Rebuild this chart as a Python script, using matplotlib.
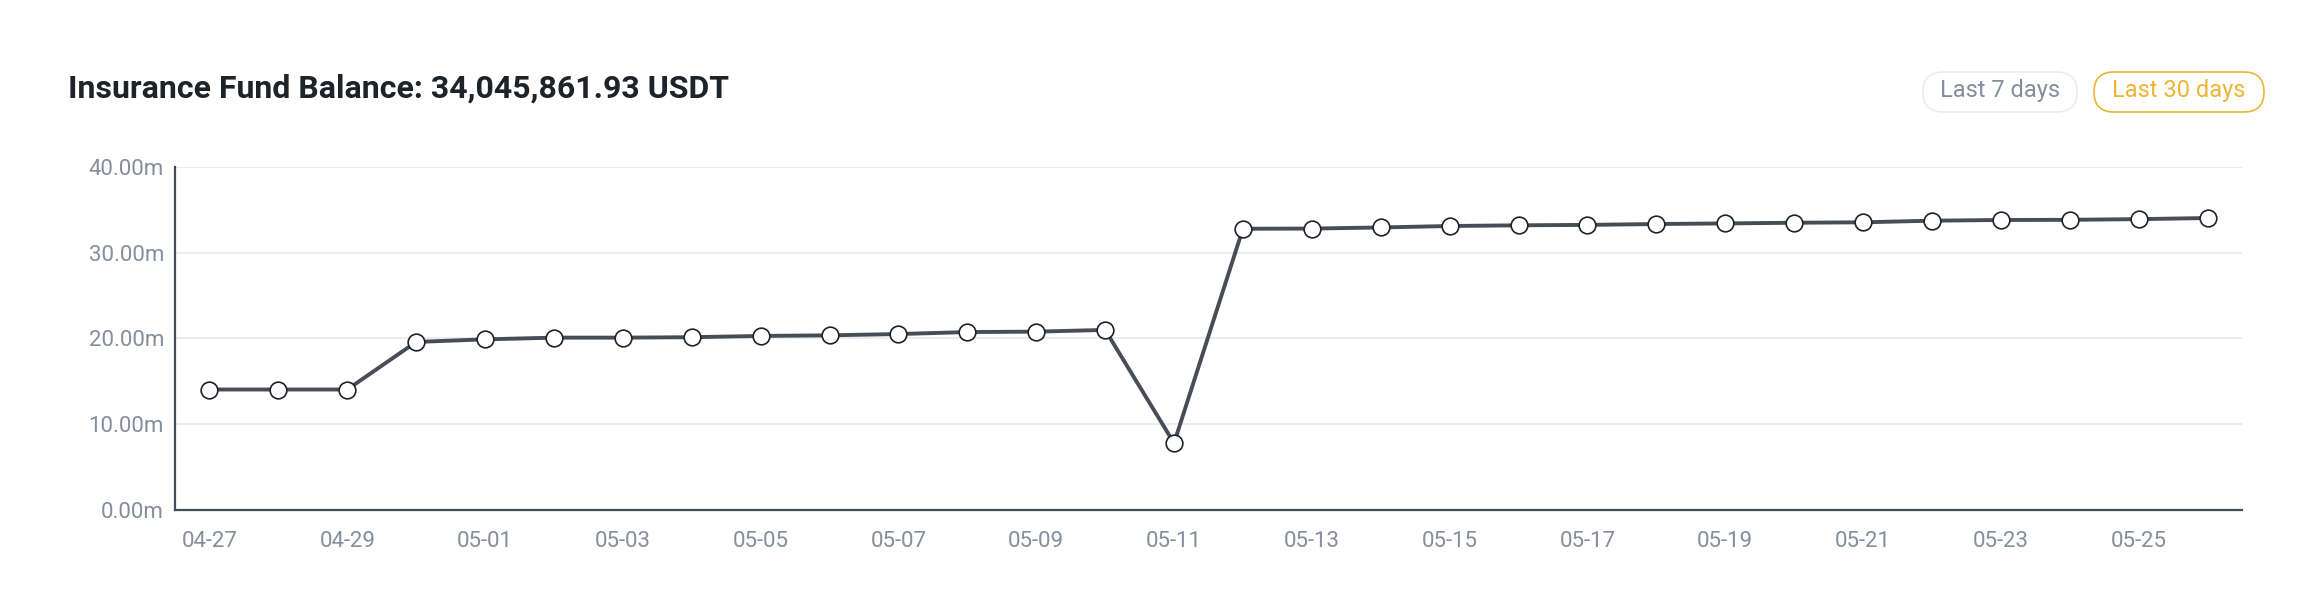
import matplotlib as mpl
import numpy as np
from matplotlib import pyplot as plt
from matplotlib.patches import FancyBboxPatch

mpl.rcParams["font.family"] = ["Roboto", "DejaVu Sans"]

TITLE = "Insurance Fund Balance: 34,045,861.93 USDT"
DATES = [
    "04-27", "04-28", "04-29", "04-30", "05-01", "05-02", "05-03", "05-04",
    "05-05", "05-06", "05-07", "05-08", "05-09", "05-10", "05-11", "05-12",
    "05-13", "05-14", "05-15", "05-16", "05-17", "05-18", "05-19", "05-20",
    "05-21", "05-22", "05-23", "05-24", "05-25", "05-26",
]
# balance in millions of USDT
BALANCE = [
    14.05, 14.05, 14.05, 19.60, 19.90, 20.10, 20.10, 20.15,
    20.30, 20.37, 20.52, 20.75, 20.80, 21.00, 7.80, 32.80,
    32.82, 32.95, 33.12, 33.20, 33.25, 33.35, 33.42, 33.50,
    33.55, 33.74, 33.82, 33.84, 33.92, 34.05,
]
Y_TICKS = [0, 10, 20, 30, 40]
BUTTONS = ["Last 7 days", "Last 30 days"]

LINE = "#474D57"
GRID = "#EAECEF"
TEXT_GRAY = "#848E9C"
YELLOW = "#EBB535"

W, H = 2318, 614
fig = plt.figure(figsize=(W / 100, H / 100), dpi=100)
ax = fig.add_axes([0.0755, 0.1694, 0.8917, 0.5586])

x = np.arange(len(DATES))
ax.plot(x, BALANCE, color=LINE, lw=2.8, zorder=3)
ax.plot(x, BALANCE, ls="none", marker="o", ms=12, mfc="white",
        mec="#1E2329", mew=1.2, zorder=4)

ax.set_xlim(-0.5, len(DATES) - 0.5)
ax.set_ylim(0, 40)
ax.set_yticks(Y_TICKS)
ax.set_yticklabels([f"{v:.2f}m" for v in Y_TICKS])
ax.set_xticks(x[::2])
ax.set_xticklabels(DATES[::2])
ax.tick_params(length=0, labelsize=16, labelcolor=TEXT_GRAY)
ax.tick_params(axis="y", pad=8)
ax.tick_params(axis="x", pad=15)
ax.grid(axis="y", color=GRID, lw=1.5, zorder=0)

for side in ["top", "right"]:
    ax.spines[side].set_visible(False)
for side in ["left", "bottom"]:
    ax.spines[side].set_color(LINE)
    ax.spines[side].set_linewidth(1.6)

fig.text(68 / W, 1 - 89 / H, TITLE, fontsize=23, fontweight="bold",
         color="#1E2329", va="center", ha="left")


def pill(x0, x1, label, color, edge):
    y0, y1 = H - 112, H - 72
    fig.add_artist(FancyBboxPatch(
        (x0, y0), x1 - x0, y1 - y0, transform=None,
        boxstyle=f"round,pad=0,rounding_size={(y1 - y0) / 2}",
        fc="white", ec=edge, lw=1.2))
    fig.text((x0 + x1) / 2 / W, 1 - 91 / H, label, fontsize=17, color=color,
             ha="center", va="center")


pill(1923, 2077, BUTTONS[0], TEXT_GRAY, GRID)
pill(2094, 2264, BUTTONS[1], YELLOW, YELLOW)

fig.savefig("out.png", dpi=100)
